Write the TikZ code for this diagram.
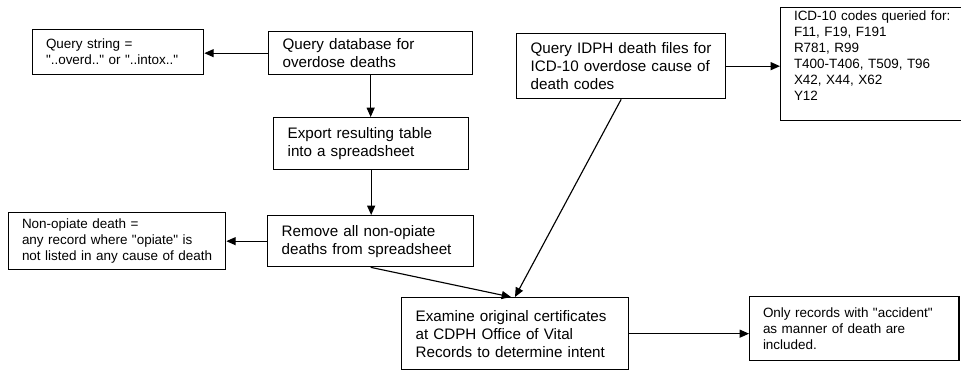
\documentclass[tikz,border=0pt]{standalone}
\usepackage{fontspec}
\setmainfont{Liberation Sans}
\usetikzlibrary{arrows.meta,positioning,calc}

\newcommand{\qt}{\textquotedbl}

\tikzset{
  stepbox/.style={draw, line width=1pt, anchor=north west, align=left,
                  inner xsep=10.5pt, inner ysep=0pt,
                  font=\fontsize{11.4}{13.5}\selectfont},
  notebox/.style={stepbox, inner xsep=10pt, font=\fontsize{10.1}{12}\selectfont},
  flow/.style={line width=0.85pt, -{Triangle[length=7pt,width=6pt]}}
}

\begin{document}
\begin{tikzpicture}[x=0.75pt,y=-0.75pt]

                % Frame (pixel coordinates of the original)
                \path[use as bounding box, clip] (0,0) rectangle (961,371);

                % Main steps
                \node[stepbox, text width=132pt, minimum height=32.25pt] (qdb) at (268,31)
                    {Query database for\\overdose deaths};
                \node[stepbox, text width=125.25pt, minimum height=39pt] (export) at (273,117)
                    {Export resulting table\\into a spreadsheet};
                \node[stepbox, text width=133.5pt, minimum height=38.25pt] (remove) at (267,215)
                    {Remove all non-opiate\\deaths from spreadsheet};
                \node[stepbox, text width=135.75pt, minimum height=48.75pt] (idph) at (516,33)
                    {\mbox{Query IDPH death files for}\\\mbox{ICD-10 overdose cause of}\\death codes};
                \node[stepbox, text width=149.25pt, minimum height=54pt] (exam) at (401,297)
                    {\mbox{Examine original certificates}\\at CDPH Office of Vital\\\mbox{Records to determine intent}};

                % Notes
                \node[notebox, text width=108.25pt, minimum height=33.75pt] (qstr) at (32,29)
                    {Query string =\\\mbox{\qt..overd..\qt\ or \qt..intox..\qt}};
                \node[notebox, text width=142.75pt, minimum height=42.75pt] (nonop) at (8,212)
                    {Non-opiate death =\\\mbox{any record where \qt opiate\qt\ is}\\\mbox{not listed in any cause of death}};
                \node[notebox, text width=128pt, minimum height=84.75pt] (icd) at (780,7)
                    {ICD-10 codes queried for:\\F11, F19, F191\\R781, R99\\T400-T406, T509, T96\\X42, X44, X62\\Y12\\[1.5pt]\mbox{}};
                \node[notebox, text width=137pt, minimum height=48pt] (only) at (749,296)
                    {\mbox{Only records with \qt accident\qt}\\as manner of death are\\included.};

                % Connectors
                \draw[flow] (qdb.west) -- (qdb.west -| qstr.east);
                \draw[flow] (qdb.south) -- (qdb.south |- export.north);
                \draw[flow] (export.south) -- (export.south |- remove.north);
                \draw[flow] (remove.west) -- (remove.west -| nonop.east);
                \draw[flow] (idph.east) -- (idph.east -| icd.west);
                \draw[flow] (exam.east) -- (exam.east -| only.west);

                \coordinate (tipa) at ($(exam.north west)+(110,0)$);
                \coordinate (tipb) at ($(exam.north west)+(114,0)$);
                \draw[flow] (remove.south) -- (tipa);
                \draw[flow] (idph.south) -- (tipb);
            \end{tikzpicture}
\end{document}
